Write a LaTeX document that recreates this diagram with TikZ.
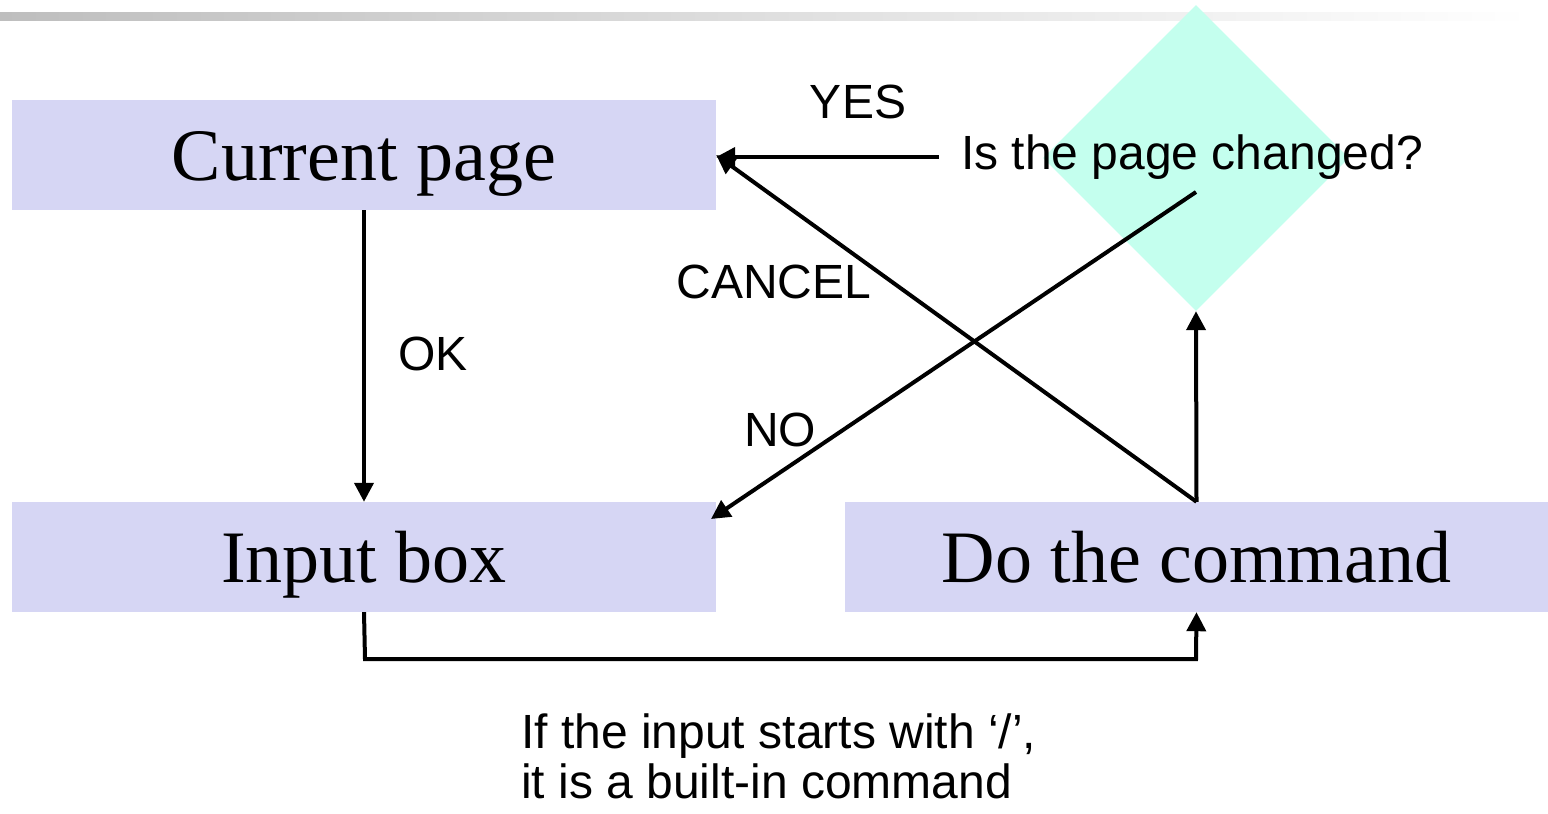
\documentclass[tikz,border=0pt]{standalone}
\usepackage{fontspec}
\setmainfont{Liberation Serif}
\newfontfamily\lsans{Liberation Sans}
\usetikzlibrary{arrows.meta,shapes.geometric}
\definecolor{boxfill}{RGB}{214,214,244}
\definecolor{diafill}{RGB}{196,255,238}
\definecolor{barl}{RGB}{190,190,190}
\begin{document}
\begin{tikzpicture}[x=1pt,y=-1pt,
  box/.style={fill=boxfill,draw=none,minimum width=704pt,minimum height=110pt,inner sep=0pt,
    text height=60pt,text depth=10pt,font=\fontsize{74}{80}\selectfont},
  lbl/.style={font=\lsans\fontsize{48}{52}\selectfont,inner sep=0pt},
  arr/.style={line width=4pt,-{Triangle[length=19pt,width=19pt]}}]
\useasboundingbox (0,0) rectangle (1548,814);
\shade[left color=barl,right color=white] (0,12) rectangle (1530,20);
\node[diamond,fill=diafill,draw=none,minimum width=306pt,minimum height=306pt,inner sep=0pt,aspect=1] (dia) at (1196,158) {};
\node[box] (cp) at (364,155) {Current page};
\node[box] (ib) at (364,557) {Input box};
\node[box,minimum width=703pt] (dc) at (1196.5,557) {Do the command};
\node[lbl,inner sep=22pt] (q) at (1192,157) {Is the page changed?};
\node[lbl] (yes) at (858,102) {YES};
\node[lbl] (cancel) at (774,282) {CANCEL};
\node[lbl] (ok) at (433,354) {OK};
\node[lbl] (no) at (780,430) {NO};
\node[lbl,anchor=north west,align=left,font=\lsans\fontsize{48}{50}\selectfont] (note) at (521,714)
  {If the input starts with ‘/’,\\it is a built-in command};
\coordinate (b1) at (365,659);
\coordinate (b2) at (1196,659);
\coordinate (nostart) at (1196,192);
\coordinate (noend) at (711,519);
\draw[arr] (cp.south) -- (ib.north);
\draw[arr] (ib.south) -- (b1) -- (b2) -- (dc.south);
\draw[arr] (dc.north) -- (dia.south);
\draw[arr] (dc.north) -- (cp.east);
\draw[arr] (q.west) -- (q.west -| cp.east);
\draw[arr] (nostart) -- (noend);
\end{tikzpicture}
\end{document}
